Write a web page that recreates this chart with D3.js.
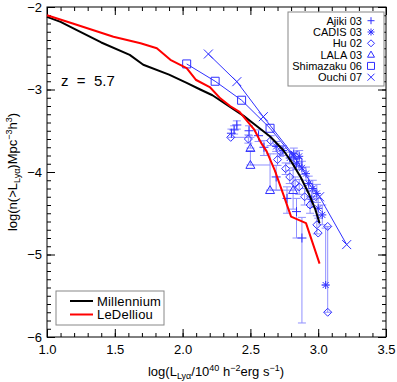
<!DOCTYPE html>
<html>
<head>
<meta charset="utf-8">
<script src="https://cdn.jsdelivr.net/npm/d3@7"></script>
<style>
  body { margin: 0; background: #fff; }
  svg { font-family: "Liberation Sans", Arial, sans-serif; }
</style>
</head>
<body>
<div id="chart"></div>
<script>
// model curves
const millenniumX = [1.0, 1.1, 1.22, 1.4, 1.61, 1.71, 1.9, 2.03, 2.13, 2.22, 2.35, 2.45, 2.52, 2.645, 2.74, 2.80, 2.87, 2.93, 2.98, 3.01];
const millenniumY = [-2.12, -2.18, -2.28, -2.43, -2.58, -2.70, -2.82, -2.92, -3.0, -3.07, -3.21, -3.32, -3.41, -3.57, -3.73, -3.87, -4.06, -4.26, -4.46, -4.62];
const ledelliouX = [1.0, 1.19, 1.49, 1.69, 1.81, 1.91, 2.03, 2.10, 2.2, 2.28, 2.35, 2.42, 2.53, 2.58, 2.62, 2.68, 2.74, 2.80, 2.91, 3.01];
const ledelliouY = [-2.10, -2.20, -2.36, -2.44, -2.50, -2.64, -2.74, -2.885, -2.97, -3.11, -3.2, -3.27, -3.49, -3.65, -3.75, -3.98, -4.26, -4.54, -4.62, -5.11];

// observations
const ouchiX = [2.19, 2.40, 2.595, 2.82, 3.01, 3.21];
const ouchiY = [-2.57, -2.905, -3.33, -3.80, -4.30, -4.88];
const shimazakuX = [2.03, 2.24, 2.435, 2.645, 2.85];
const shimazakuY = [-2.69, -2.90, -3.13, -3.47, -3.88];
// [x, y, ylo, yhi]
const ajiki = [
  [2.40, -3.43, -3.48, -3.38], [2.38, -3.49, -3.54, -3.44], [2.36, -3.53, -3.58, -3.48],
  [2.49, -3.50, -3.56, -3.44], [2.56, -3.56, -3.63, -3.49], [2.60, -3.70, -3.80, -3.62],
  [2.69, -4.06, -4.22, -3.92], [2.77, -4.32, -4.50, -4.18], [2.84, -4.48, -4.80, -4.32],
  [2.88, -4.80, -5.83, -4.55]
];
// [x, y, ylo, yhi]
const cadis = [
  [2.69, -3.69, -3.75, -3.63], [2.74, -3.74, -3.80, -3.68], [2.79, -3.83, -3.90, -3.76],
  [2.82, -3.78, -3.85, -3.71], [2.86, -3.81, -3.88, -3.74], [2.88, -3.95, -4.03, -3.87],
  [2.91, -4.02, -4.10, -3.94], [2.93, -4.14, -4.23, -4.05], [2.96, -4.20, -4.30, -4.10],
  [2.99, -4.26, -4.37, -4.15], [3.00, -4.44, -4.56, -4.32], [2.84, -3.90, -3.97, -3.83],
  [2.95, -4.33, -4.43, -4.23], [3.03, -4.52, -4.64, -4.40], [3.055, -5.37, -5.37, -4.68]
];
// [x, y, xlo, xhi, ylo, yhi]
const hu = [
  [2.355, -3.58, 2.355, 2.485, -3.58, -3.58], [2.485, -3.60, 2.485, 2.485, -3.65, -3.55],
  [2.65, -3.62, 2.65, 2.65, -3.68, -3.56], [2.70, -3.85, 2.70, 2.70, -3.92, -3.78],
  [2.72, -3.75, 2.72, 2.72, -3.81, -3.69], [2.76, -3.96, 2.76, 2.76, -4.03, -3.89],
  [2.79, -4.06, 2.79, 2.79, -4.14, -3.98], [2.83, -4.14, 2.83, 2.83, -4.22, -4.06],
  [2.86, -4.18, 2.86, 2.86, -4.27, -4.09], [2.90, -4.30, 2.90, 2.90, -4.40, -4.20],
  [2.94, -4.40, 2.94, 2.94, -4.50, -4.30], [2.99, -4.64, 2.99, 2.99, -4.75, -4.53],
  [3.00, -4.74, 3.00, 3.00, -4.74, -4.74], [3.07, -4.66, 3.07, 3.07, -4.66, -4.66],
  [3.07, -5.70, 3.07, 3.07, -5.70, -4.66]
];
const lala = [
  [2.50, -3.71, 2.50, 2.50, -3.71, -3.58], [2.50, -3.915, 2.50, 2.645, -3.915, -3.74],
  [2.645, -4.22, 2.645, 2.815, -4.22, -3.78], [2.815, -4.22, 2.815, 2.815, -4.45, -3.95]
];

const legendNames = ["Ajiki 03", "CADIS 03", "Hu 02", "LALA 03", "Shimazaku 06", "Ouchi 07"];
const legendSymbols = ["plus", "asterisk", "diamond", "triangle", "square", "cross"];
const modelNames = ["Millennium", "LeDelliou"];
const modelColors = ["#000000", "#ff0000"];
const xTicks = [1.0, 1.5, 2.0, 2.5, 3.0, 3.5];
const yTicks = [-6, -5, -4, -3, -2];

let width = 397;
let height = 382;
let blue = "#3030ff";
let errBlue = "#9090ff";

let x = d3.scaleLinear().domain([1, 3.5]).range([47, 386]);
let y = d3.scaleLinear().domain([-6, -2]).range([337, 7]);

let svg = d3.select("#chart").append("svg")
    .attr("width", width)
    .attr("height", height);

// symbols
function symbolPath(type, s) {
    if (type == "plus") return `M${-s},0H${s}M0,${-s}V${s}`;
    if (type == "cross") return `M${-s},${-s}L${s},${s}M${-s},${s}L${s},${-s}`;
    if (type == "asterisk") {
        let c = s * 0.75;
        return `M${-s},0H${s}M0,${-s}V${s}M${-c},${-c}L${c},${c}M${-c},${c}L${c},${-c}`;
    }
    if (type == "diamond") return `M0,${-s}L${s},0L0,${s}L${-s},0Z`;
    if (type == "triangle") return `M0,${-s}L${s},${s * 0.75}L${-s},${s * 0.75}Z`;
    if (type == "square") return `M${-s},${-s}H${s}V${s}H${-s}Z`;
}

// axes: ticks pointing inward on all four sides
function minorVals(dom, step) {
    return d3.range(Math.round(dom[0] / step), Math.round(dom[1] / step) + 1).map(d => +(d * step).toFixed(3));
}
let xMinor = minorVals([1, 3.5], 0.1);
let yMinor = minorVals([-6, -2], 0.1);

svg.append("g").attr("transform", "translate(0,337)")
    .call(d3.axisBottom(x).tickValues(xTicks).tickFormat(d3.format(".1f")).tickSize(-8).tickPadding(8));
svg.append("g").attr("transform", "translate(0,337)")
    .call(d3.axisBottom(x).tickValues(xMinor).tickFormat("").tickSize(-4));
svg.append("g").attr("transform", "translate(0,7)")
    .call(d3.axisTop(x).tickValues(xTicks).tickFormat("").tickSize(-8));
svg.append("g").attr("transform", "translate(0,7)")
    .call(d3.axisTop(x).tickValues(xMinor).tickFormat("").tickSize(-4));
svg.append("g").attr("transform", "translate(47,0)")
    .call(d3.axisLeft(y).tickValues(yTicks).tickFormat(d3.format("d")).tickSize(-8).tickPadding(5));
svg.append("g").attr("transform", "translate(47,0)")
    .call(d3.axisLeft(y).tickValues(yMinor).tickFormat("").tickSize(-4));
svg.append("g").attr("transform", "translate(386,0)")
    .call(d3.axisRight(y).tickValues(yTicks).tickFormat("").tickSize(-8));
svg.append("g").attr("transform", "translate(386,0)")
    .call(d3.axisRight(y).tickValues(yMinor).tickFormat("").tickSize(-4));

svg.selectAll(".domain").remove();
svg.selectAll(".tick line").attr("stroke", "#000");
svg.selectAll(".tick text").attr("font-size", "13px").attr("fill", "#000")
    .attr("font-family", "Liberation Sans, Arial, sans-serif");

svg.append("rect")
    .attr("x", 47).attr("y", 7)
    .attr("width", 386 - 47).attr("height", 337 - 7)
    .attr("fill", "none").attr("stroke", "#000");

// error bars
let errG = svg.append("g").attr("stroke", errBlue).attr("stroke-width", 1).attr("fill", "none");
function vBar(px, lo, hi) {
    if (lo == hi) return;
    errG.append("line").attr("x1", x(px)).attr("x2", x(px)).attr("y1", y(lo)).attr("y2", y(hi));
    [lo, hi].forEach(v => errG.append("line")
        .attr("x1", x(px) - 4).attr("x2", x(px) + 4).attr("y1", y(v)).attr("y2", y(v)));
}
function hBar(py, lo, hi) {
    if (lo == hi) return;
    errG.append("line").attr("x1", x(lo)).attr("x2", x(hi)).attr("y1", y(py)).attr("y2", y(py));
}
ajiki.forEach(d => vBar(d[0], d[2], d[3]));
cadis.forEach(d => vBar(d[0], d[2], d[3]));
hu.forEach(d => { vBar(d[0], d[4], d[5]); hBar(d[1], d[2], d[3]); });
lala.forEach(d => { vBar(d[0], d[4], d[5]); hBar(d[1], d[2], d[3]); });

// connected surveys
let line = d3.line().x(d => x(d[0])).y(d => y(d[1]));
[[ouchiX, ouchiY], [shimazakuX, shimazakuY]].forEach(s => {
    svg.append("path")
        .datum(s[0].map((v, i) => [v, s[1][i]]))
        .attr("d", line)
        .attr("fill", "none")
        .attr("stroke", blue)
        .attr("stroke-width", 1);
});

// markers
function drawMarks(data, type, size) {
    svg.append("g").selectAll("path")
        .data(data).enter()
        .append("path")
        .attr("transform", d => `translate(${x(d[0])},${y(d[1])})`)
        .attr("d", symbolPath(type, size))
        .attr("fill", "none")
        .attr("stroke", blue)
        .attr("stroke-width", 1);
}
drawMarks(ajiki, "plus", 4.5);
drawMarks(cadis, "asterisk", 4);
drawMarks(hu, "diamond", 4);
drawMarks(lala, "triangle", 4.5);
drawMarks(shimazakuX.map((v, i) => [v, shimazakuY[i]]), "square", 4);
drawMarks(ouchiX.map((v, i) => [v, ouchiY[i]]), "cross", 4.5);

// model lines
[[millenniumX, millenniumY], [ledelliouX, ledelliouY]].forEach((s, k) => {
    svg.append("path")
        .datum(s[0].map((v, i) => [v, s[1][i]]))
        .attr("d", line)
        .attr("fill", "none")
        .attr("stroke", modelColors[k])
        .attr("stroke-width", 2)
        .attr("stroke-linejoin", "round");
});

// survey legend
svg.append("rect")
    .attr("x", 288).attr("y", 12).attr("width", 96).attr("height", 74)
    .attr("fill", "#fff").attr("stroke", "#888");
legendNames.forEach((n, i) => {
    let cy = 20.7 + i * 11.3;
    svg.append("text")
        .attr("x", 362).attr("y", cy + 4)
        .attr("text-anchor", "end")
        .attr("font-size", "11px")
        .text(n);
    svg.append("path")
        .attr("transform", `translate(371,${cy})`)
        .attr("d", symbolPath(legendSymbols[i], 3.5))
        .attr("fill", "none").attr("stroke", blue);
});

// model legend
svg.append("rect")
    .attr("x", 56).attr("y", 291).attr("width", 108).attr("height", 34)
    .attr("fill", "#fff").attr("stroke", "#888");
modelNames.forEach((n, i) => {
    let cy = 301 + i * 13.5;
    svg.append("line")
        .attr("x1", 70).attr("x2", 93).attr("y1", cy).attr("y2", cy)
        .attr("stroke", modelColors[i]).attr("stroke-width", 2);
    svg.append("text")
        .attr("x", 97).attr("y", cy + 4.5)
        .attr("font-size", "13px")
        .attr("letter-spacing", "0.2px")
        .text(n);
});

// redshift label
svg.append("text")
    .attr("x", 61).attr("y", 86)
    .attr("font-size", "15px")
    .style("white-space", "pre")
    .text("z  =  5.7");

// x label
let xl = svg.append("text")
    .attr("x", 216).attr("y", 376)
    .attr("text-anchor", "middle")
    .attr("font-size", "13px");
xl.append("tspan").text("log(L");
xl.append("tspan").attr("font-size", "9px").attr("dy", 3).text("Lyα");
xl.append("tspan").attr("dy", -3).text("/10");
xl.append("tspan").attr("font-size", "9px").attr("dy", -5).text("40");
xl.append("tspan").attr("dy", 5).text(" h");
xl.append("tspan").attr("font-size", "9px").attr("dy", -5).text("−2");
xl.append("tspan").attr("dy", 5).text("erg s");
xl.append("tspan").attr("font-size", "9px").attr("dy", -5).text("−1");
xl.append("tspan").attr("dy", 5).text(")");

// y label
let yl = svg.append("text")
    .attr("transform", "translate(17,172) rotate(-90)")
    .attr("text-anchor", "middle")
    .attr("font-size", "13px");
yl.append("tspan").text("log(n(>L");
yl.append("tspan").attr("font-size", "9px").attr("dy", 3).text("Lyα");
yl.append("tspan").attr("dy", -3).text(")Mpc");
yl.append("tspan").attr("font-size", "9px").attr("dy", -5).text("−3");
yl.append("tspan").attr("dy", 5).text("h");
yl.append("tspan").attr("font-size", "9px").attr("dy", -5).text("3");
yl.append("tspan").attr("dy", 5).text(")");
</script>
</body>
</html>
